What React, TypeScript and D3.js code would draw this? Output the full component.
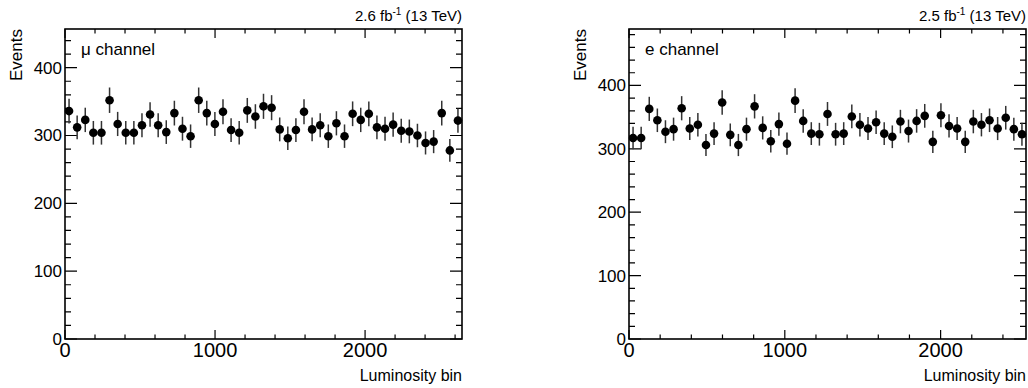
import React, { useEffect, useRef } from "react";
import * as d3 from "d3";

// events per luminosity bin
const muEvents = [336, 312, 323, 304, 304, 352, 317, 304, 304, 315, 331, 315, 305, 333, 310, 299, 352, 333, 317, 335, 308, 304, 337, 328, 343, 341, 309, 296, 308, 335, 309, 315, 299, 318, 299, 332, 323, 332, 312, 310, 316, 307, 306, 300, 289, 291, 333, 278, 322];
const eEvents = [317, 317, 363, 345, 327, 331, 364, 332, 338, 306, 324, 373, 322, 306, 331, 367, 333, 312, 339, 308, 376, 344, 324, 323, 355, 323, 324, 351, 338, 332, 342, 324, 319, 343, 328, 344, 352, 311, 353, 336, 332, 311, 343, 338, 345, 332, 349, 331, 323];
const muBinWidth = 54;
const eBinWidth = 52;
const xTicks = [0, 1000, 2000];
const yTicks = [0, 100, 200, 300, 400];

const FONT = "'Liberation Sans', Arial, Helvetica, sans-serif";

function Panel(props) {
  const { values, binWidth, yMax, left, label, lumi } = props;
  const ref = useRef(null);

  useEffect(() => {
    const g = d3.select(ref.current);
    g.selectAll("*").remove();

    const width = 397;
    const top = 29;
    const bottom = 339;

    const x = d3
      .scaleLinear()
      .domain([0, values.length * binWidth])
      .range([left, left + width]);
    const y = d3.scaleLinear().domain([0, yMax]).range([bottom, top]);

    //minor + major ticks, ROOT style (inward, mirrored)
    const xMinor = d3.range(0, values.length * binWidth, 200);
    const yMinor = d3.range(0, yMax, 20);

    g.selectAll(".xminor")
      .data(xMinor)
      .enter()
      .append("path")
      .attr("d", (d) => {
        const len = d % 1000 === 0 ? 9 : 4.5;
        return `M${x(d)},${bottom}v${-len}M${x(d)},${top}v${len}`;
      })
      .attr("stroke", "#000")
      .attr("stroke-width", 1.2);

    g.selectAll(".yminor")
      .data(yMinor)
      .enter()
      .append("path")
      .attr("d", (d) => {
        const len = d % 100 === 0 ? 12 : 6;
        return `M${left},${y(d)}h${len}M${left + width},${y(d)}h${-len}`;
      })
      .attr("stroke", "#000")
      .attr("stroke-width", 1.2);

    //frame
    g.append("rect")
      .attr("x", left)
      .attr("y", top)
      .attr("width", width)
      .attr("height", bottom - top)
      .attr("fill", "none")
      .attr("stroke", "#000")
      .attr("stroke-width", 1.6);

    //tick labels
    g.selectAll(".xlab")
      .data(xTicks)
      .enter()
      .append("text")
      .attr("x", (d) => x(d))
      .attr("y", bottom + 18)
      .attr("text-anchor", "middle")
      .attr("font-size", 20)
      .text((d) => d);

    g.selectAll(".ylab")
      .data(yTicks)
      .enter()
      .append("text")
      .attr("x", left - 3)
      .attr("y", (d) => y(d) + 6)
      .attr("text-anchor", "end")
      .attr("font-size", 17)
      .text((d) => d);

    //axis titles
    g.append("text")
      .attr("x", left + width)
      .attr("y", 381)
      .attr("text-anchor", "end")
      .attr("font-size", 16)
      .text("Luminosity bin");

    g.append("text")
      .attr("transform", `translate(${left - 43},${top}) rotate(-90)`)
      .attr("text-anchor", "end")
      .attr("font-size", 17)
      .text("Events");

    //error bars and markers
    g.selectAll(".err")
      .data(values)
      .enter()
      .append("line")
      .attr("x1", (d, i) => x((i + 0.5) * binWidth))
      .attr("x2", (d, i) => x((i + 0.5) * binWidth))
      .attr("y1", (d) => y(d - Math.sqrt(d)))
      .attr("y2", (d) => y(d + Math.sqrt(d)))
      .attr("stroke", "#333")
      .attr("stroke-width", 1.5);

    g.selectAll(".pt")
      .data(values)
      .enter()
      .append("circle")
      .attr("cx", (d, i) => x((i + 0.5) * binWidth))
      .attr("cy", (d) => y(d))
      .attr("r", 4.3)
      .attr("fill", "#000");

    //channel label
    g.append("text")
      .attr("x", left + 16)
      .attr("y", 55)
      .attr("font-size", 17)
      .text(label);

    //lumi title
    const t = g
      .append("text")
      .attr("x", left + width)
      .attr("y", 21)
      .attr("text-anchor", "end")
      .attr("font-size", 15);
    t.append("tspan").text(`${lumi} fb`);
    t.append("tspan").attr("dy", -6).attr("font-size", 10).text("-1");
    t.append("tspan").attr("dy", 6).text(" (13 TeV)");
  }, [values]);

  return <g ref={ref} fontFamily={FONT} fill="#000" />;
}

export default function App() {
  return (
    <svg
      width={1028}
      height={388}
      style={{ position: "absolute", left: 0, top: 0, background: "#fff" }}
    >
      <Panel values={muEvents} binWidth={muBinWidth} yMax={457} left={65} label="μ channel" lumi="2.6" />
      <Panel values={eEvents} binWidth={eBinWidth} yMax={489} left={629} label="e channel" lumi="2.5" />
    </svg>
  );
}
